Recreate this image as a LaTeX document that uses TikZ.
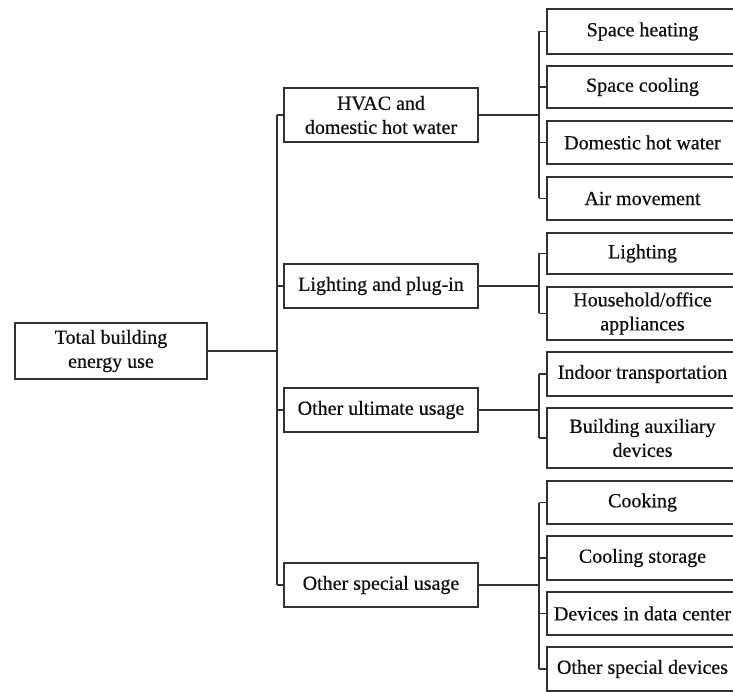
\documentclass[tikz,border=0pt]{standalone}
\usepackage{fontspec}
\setmainfont{Liberation Serif}
\newfontfamily\labelfont[FakeBold=0.6]{Liberation Serif}
\definecolor{linegray}{HTML}{333333}
\definecolor{inkdark}{HTML}{111111}
\begin{document}
\begin{tikzpicture}[x=1pt,y=-1pt,
  box/.style={draw=linegray, line width=1.3pt, rectangle, inner sep=0pt,
    align=center, text=inkdark, font=\labelfont\fontsize{20}{24}\selectfont},
  rootbox/.style={box, minimum width=192pt},
  midbox/.style={box, minimum width=194pt},
  leafbox/.style={box, minimum width=191pt},
  link/.style={draw=linegray, line width=1.3pt},
  boldlink/.style={draw=linegray, line width=2.4pt}]
\useasboundingbox (0,0) rectangle (733,692);
\clip (0,0) rectangle (733,692);
\fill[white] (0,0) rectangle (733,692);

% root
\node[rootbox, minimum height=56pt] (root) at (111,351) {Total building\\energy use};

% second level
\node[midbox, minimum height=54pt] (hvac) at (381,115) {HVAC and\\domestic hot water};
\node[midbox, minimum height=44pt] (light) at (381,286) {Lighting and plug-in};
\node[midbox, minimum height=44pt] (ult) at (381,410) {Other ultimate usage};
\node[midbox, minimum height=44pt] (spec) at (381,585) {Other special usage};

% leaves
\node[leafbox, minimum height=45pt] (sh) at (642.5,31.5) {Space heating};
\node[leafbox, minimum height=42pt] (sc) at (642.5,87) {Space cooling};
\node[leafbox, minimum height=43pt] (dhw) at (642.5,142.5) {Domestic hot water};
\node[leafbox, minimum height=43pt] (am) at (642.5,198.5) {Air movement};
\node[leafbox, minimum height=41pt] (li) at (642.5,253.5) {Lighting};
\node[leafbox, minimum height=53pt] (ho) at (642.5,313.5) {Household/office\\appliances};
\node[leafbox, minimum height=44pt] (it) at (642.5,374) {Indoor transportation};
\node[leafbox, minimum height=60pt] (ba) at (642.5,438) {Building auxiliary\\devices};
\node[leafbox, minimum height=43pt] (co) at (642.5,502.5) {Cooking};
\node[leafbox, minimum height=44pt] (cs) at (642.5,558) {Cooling storage};
\node[leafbox, minimum height=43pt] (dd) at (642.5,613.5) {Devices in data center};
\node[leafbox, minimum height=44pt] (os) at (642.5,669) {Other special devices};

% bus positions
\coordinate (t) at (277,0);
\coordinate (b) at (539,0);

% trunk from the root
\draw[link] (root.east) -- (root.east -| t);
\draw[link] (hvac.west -| t) -- (spec.west -| t);
\foreach \m in {hvac,light,ult,spec}
  \draw[link] (\m.west -| t) -- (\m.west);

% HVAC group
\draw[boldlink] (hvac.east) -- (hvac.east -| b);
\draw[link] (sh.west -| b) -- (am.west -| b);
\foreach \c in {sh,sc,dhw,am}
  \draw[link] (\c.west -| b) -- (\c.west);

% lighting group
\draw[link] (light.east) -- (light.east -| b);
\draw[link] (li.west -| b) -- (ho.west -| b);
\foreach \c in {li,ho}
  \draw[link] (\c.west -| b) -- (\c.west);

% ultimate usage group
\draw[link] (ult.east) -- (ult.east -| b);
\draw[link] (it.west -| b) -- (ba.west -| b);
\foreach \c in {it,ba}
  \draw[link] (\c.west -| b) -- (\c.west);

% special usage group
\draw[link] (spec.east) -- (spec.east -| b);
\draw[link] (co.west -| b) -- (os.west -| b);
\foreach \c in {co,cs,dd,os}
  \draw[link] (\c.west -| b) -- (\c.west);
\end{tikzpicture}
\end{document}
